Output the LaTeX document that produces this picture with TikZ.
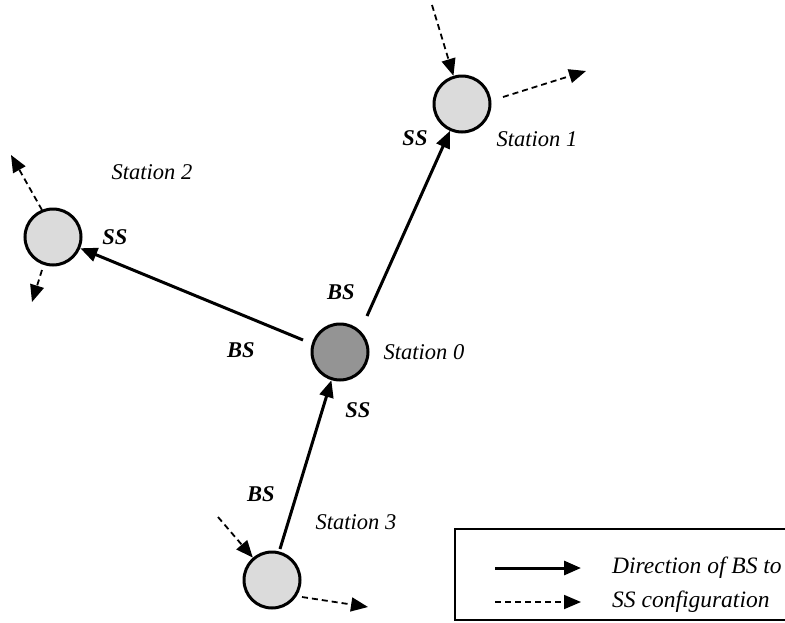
\documentclass[tikz,border=0pt]{standalone}
\usepackage{fontspec}
\setmainfont{Liberation Serif}
\usetikzlibrary{arrows.meta}
\begin{document}
\begin{tikzpicture}[x=1pt,y=-1pt,
  station/.style={circle,draw=black,line width=3pt,minimum size=56pt,inner sep=0pt},
  light/.style={station,fill=black!14},
  dark/.style={station,fill=black!42},
  solidarrow/.style={line width=3pt,-{Triangle[length=17pt,width=14pt]}},
  dasharrow/.style={line width=1.8pt,dash pattern=on 6pt off 4pt,-{Triangle[length=17pt,width=14pt]}},
  lbl/.style={font=\fontsize{22.5}{26}\selectfont\itshape,inner sep=0pt},
  leg/.style={font=\fontsize{23.5}{27}\selectfont\itshape,inner sep=0pt},
  role/.style={font=\fontsize{22.5}{26}\selectfont\bfseries\itshape,inner sep=0pt}]
\useasboundingbox (0,0) rectangle (785,622);
\node[dark]  (s0) at (340,352) {};
\node[light] (s1) at (462,104) {};
\node[light] (s2) at (53,237) {};
\node[light] (s3) at (272,580) {};
% solid arrows
\coordinate (a0) at (367,316);
\coordinate (b0) at (303,340);
\coordinate (c3) at (280,549);
\draw[solidarrow] (a0) -- (s1);
\draw[solidarrow] (b0) -- (s2);
\draw[solidarrow] (c3) -- (s0);
% dashed arrows
\coordinate (d1) at (432,5);
\coordinate (e1) at (503,97);
\coordinate (e1t) at (586,71);
\draw[dasharrow] (d1) -- (s1);
\draw[dasharrow] (e1) -- (e1t);
\coordinate (f2) at (42,210);
\coordinate (f2t) at (11,155);
\coordinate (g2) at (42,270);
\coordinate (g2t) at (32,302);
\draw[dasharrow] (f2) -- (f2t);
\draw[dasharrow] (g2) -- (g2t);
\coordinate (h3) at (218,517);
\coordinate (i3) at (302,597);
\coordinate (i3t) at (368,607);
\draw[dasharrow] (h3) -- (s3);
\draw[dasharrow] (i3) -- (i3t);
% labels
\node[lbl] (t1) at (537,139) {Station 1};
\node[lbl] (t2) at (152,172) {Station 2};
\node[lbl] (t0) at (424,352) {Station 0};
\node[lbl] (t3) at (356,522) {Station 3};
\node[role] (r1) at (415,138) {SS};
\node[role] (r2) at (115,237) {SS};
\node[role] (r3) at (341,292) {BS};
\node[role] (r4) at (241,350) {BS};
\node[role] (r5) at (358,410) {SS};
\node[role] (r6) at (261,494) {BS};
% legend
\draw[line width=1.5pt] (455,529) rectangle (795,620);
\coordinate (la) at (495,568);
\coordinate (lb) at (581,568);
\coordinate (lc) at (495,602);
\coordinate (ld) at (581,602);
\draw[solidarrow] (la) -- (lb);
\draw[dasharrow] (lc) -- (ld);
\node[leg,anchor=west] (lt1) at (612,568) {Direction of BS to};
\node[leg,anchor=west] (lt2) at (612,602) {SS configuration};
\end{tikzpicture}
\end{document}
